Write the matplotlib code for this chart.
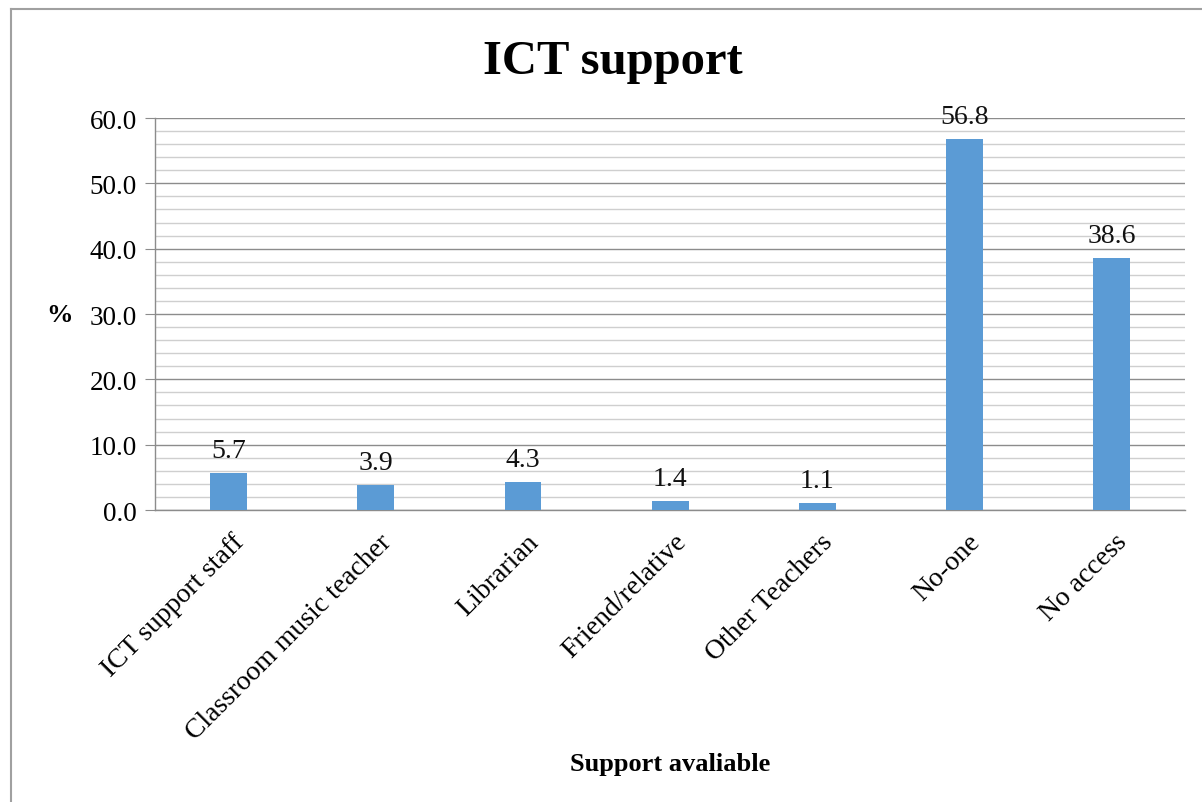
import numpy as np
import matplotlib
matplotlib.use('Agg')
from matplotlib import pyplot as plt
from matplotlib.lines import Line2D
from matplotlib.ticker import MultipleLocator

plt.rcParams['font.family'] = ['Liberation Serif', 'DejaVu Serif']

# data
categories = ['ICT support staff', 'Classroom music teacher', 'Librarian',
              'Friend/relative', 'Other Teachers', 'No-one', 'No access']
percent = [5.7, 3.9, 4.3, 1.4, 1.1, 56.8, 38.6]

fig = plt.figure(figsize=(12.02, 8.03), dpi=100)
ax = fig.add_axes([0.129, 0.3636, 0.857, 0.4882])

x = np.arange(len(categories))
bars = ax.bar(x, percent, width=0.25, color='#5B9BD5', zorder=3)

# labels on top of each bar
for b, v in zip(bars, percent):
    ax.annotate('%.1f' % v, (b.get_x() + b.get_width() / 2, v),
                xytext=(0, 7), textcoords='offset points',
                ha='center', va='bottom', fontsize=20, color='#111111')

ax.set_xlim(-0.5, len(categories) - 0.5)
ax.set_ylim(0, 60)
ax.yaxis.set_major_locator(MultipleLocator(10))
ax.yaxis.set_minor_locator(MultipleLocator(2))
ax.yaxis.set_major_formatter(matplotlib.ticker.FormatStrFormatter('%.1f'))
ax.grid(axis='y', which='major', color='#8c8c8c', lw=1.0, zorder=1)
ax.grid(axis='y', which='minor', color='#cfcfcf', lw=1.0, zorder=1)

for s in ['top', 'right']:
    ax.spines[s].set_visible(False)
for s in ['left', 'bottom']:
    ax.spines[s].set_color('#8c8c8c')
    ax.spines[s].set_linewidth(1.0)

ax.tick_params(axis='y', which='major', length=7, color='#8c8c8c',
               labelsize=19.5, pad=6)
ax.tick_params(axis='y', which='minor', length=0)
ax.tick_params(axis='x', length=0, pad=4)
ax.set_xticks(x)
ax.set_xticklabels(categories, rotation=45, ha='right', va='center',
                   rotation_mode='anchor', fontsize=20)
for lbl in ax.get_xticklabels():
    lbl.set_transform(lbl.get_transform() +
                      matplotlib.transforms.ScaledTranslation(0.12, -0.22, fig.dpi_scale_trans))

ax.set_ylabel('%', rotation=0, fontsize=19, fontweight='bold',
              labelpad=22, va='center')
ax.set_xlabel('Support avaliable', fontsize=19, fontweight='bold')
ax.xaxis.set_label_coords(0.5, -0.618)

fig.text(0.51, 0.923, 'ICT support', ha='center', va='center',
         fontsize=35, fontweight='bold')

# frame on the left and top edge
fig.add_artist(Line2D([0.009, 0.009], [0, 0.988], transform=fig.transFigure,
                      color='#a0a0a0', lw=1.5))
fig.add_artist(Line2D([0.009, 1.0], [0.988, 0.988], transform=fig.transFigure,
                      color='#a0a0a0', lw=1.5))

fig.savefig('out.png', dpi=100)
